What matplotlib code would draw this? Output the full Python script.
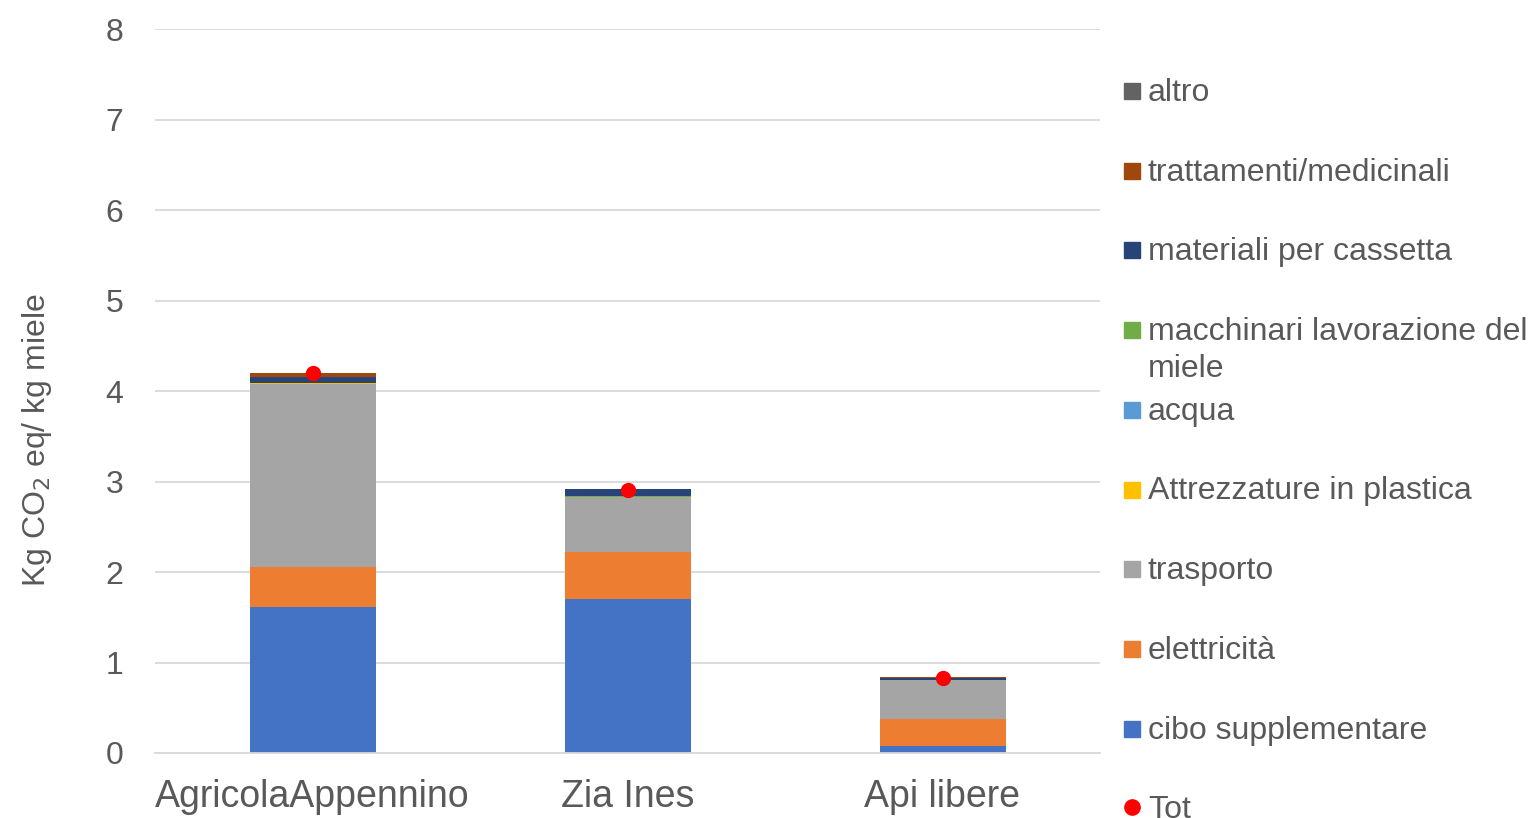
import matplotlib.pyplot as plt
import numpy as np
from matplotlib.patches import Rectangle
from matplotlib.lines import Line2D

plt.rcParams['font.family'] = ['Liberation Sans', 'DejaVu Sans']

aziende = ["AgricolaAppennino", "Zia Ines", "Api libere"]

# stacked components, bottom to top (kg CO2 eq / kg miele)
cibo = [1.61, 1.70, 0.077]
elettricita = [0.44, 0.52, 0.30]
trasporto = [2.03, 0.61, 0.43]
attrezzature = [0.003, 0.002, 0.002]
acqua = [0.002, 0.002, 0.001]
macchinari = [0.006, 0.002, 0.002]
materiali = [0.066, 0.08, 0.02]
trattamenti = [0.04, 0.003, 0.003]
altro = [0.005, 0.002, 0.002]
tot = [4.20, 2.91, 0.83]

componenti = [
    ("cibo supplementare", cibo, "#4472C4"),
    ("elettricità", elettricita, "#ED7D31"),
    ("trasporto", trasporto, "#A5A5A5"),
    ("Attrezzature in plastica", attrezzature, "#FFC000"),
    ("acqua", acqua, "#5B9BD5"),
    ("macchinari lavorazione del\nmiele", macchinari, "#70AD47"),
    ("materiali per cassetta", materiali, "#264478"),
    ("trattamenti/medicinali", trattamenti, "#9E480E"),
    ("altro", altro, "#636363"),
]

fig = plt.figure(figsize=(15.32, 8.18), dpi=100)
ax = fig.add_axes([155 / 1532, 1 - 753 / 818, 945 / 1532, 724 / 818])

x = np.arange(len(aziende))
bottom = np.zeros(len(aziende))
for nome, vals, col in componenti:
    ax.bar(x, vals, 0.4, bottom=bottom, color=col, zorder=2)
    bottom += np.array(vals)
ax.plot(x, tot, 'o', color='#FF0000', markersize=10, zorder=3)

ax.set_xlim(-0.5, 2.5)
ax.set_ylim(0, 8)
ax.set_yticks(range(0, 9))
ax.set_xticks(x)
ax.set_xticklabels(aziende)
ax.tick_params(axis='both', length=0, colors='#595959')
ax.tick_params(axis='x', labelsize=27, pad=19)
ax.tick_params(axis='y', labelsize=23, pad=23)
ax.grid(axis='y', color='#D9D9D9', linewidth=1.3, zorder=0)
for s in ['top', 'right', 'left']:
    ax.spines[s].set_visible(False)
ax.spines['bottom'].set_color('#D9D9D9')
ax.spines['bottom'].set_linewidth(1.3)
ax.set_ylabel("Kg CO$_2$ eq/ kg miele", fontsize=23, color='#595959')
ax.yaxis.set_label_coords(-0.107, 0.432)

# legend, drawn by hand so the two-line entry keeps the regular spacing
voci = [(n, c, 's') for n, v, c in componenti[::-1]] + [("Tot", '#FF0000', 'o')]
y0 = 93
for i, (nome, col, m) in enumerate(voci):
    yp = 1 - (y0 + i * 79.7) / 818
    if m == 's':
        fig.patches.append(Rectangle((1124 / 1532, yp - 6 / 818), 16 / 1532, 16 / 818,
                                     transform=fig.transFigure, color=col))
    else:
        fig.lines.append(Line2D([1132 / 1532], [yp + 3 / 818], marker='o', color=col,
                                markersize=11, transform=fig.transFigure))
    if '\n' in nome:
        fig.text(1148 / 1532, yp + 15 / 818, nome, fontsize=23, color='#595959',
                 va='top', linespacing=1.32)
    else:
        fig.text(1148 / 1532, yp, nome, fontsize=23, color='#595959', va='center')

fig.savefig("out.png", dpi=100)
